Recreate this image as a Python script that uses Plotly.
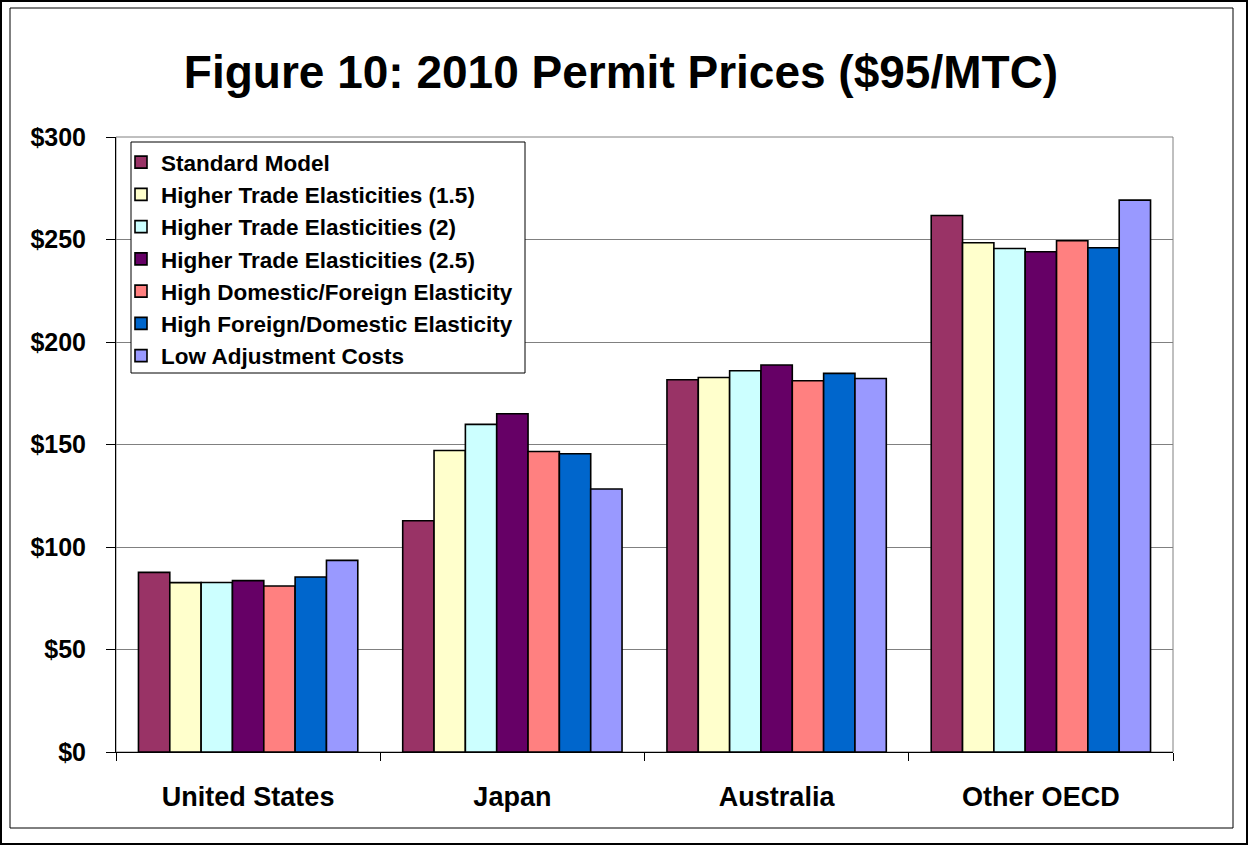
import plotly.graph_objects as go

categories = ["United States", "Japan", "Australia", "Other OECD"]
series_names = [
    "Standard Model",
    "Higher Trade Elasticities (1.5)",
    "Higher Trade Elasticities (2)",
    "Higher Trade Elasticities (2.5)",
    "High Domestic/Foreign Elasticity",
    "High Foreign/Domestic Elasticity",
    "Low Adjustment Costs",
]
standard_model = [87.6, 112.8, 181.6, 261.7]
hte_15 = [82.6, 147.1, 182.7, 248.4]
hte_2 = [82.7, 159.8, 186.0, 245.6]
hte_25 = [83.6, 165.0, 188.8, 244.0]
high_dom_for = [81.0, 146.6, 181.1, 249.4]
high_for_dom = [85.4, 145.5, 184.7, 246.0]
low_adj = [93.5, 128.3, 182.2, 269.2]
series_values = [standard_model, hte_15, hte_2, hte_25, high_dom_for, high_for_dom, low_adj]
colors = ["#993366", "#FFFFCC", "#CCFFFF", "#660066", "#FF8080", "#0066CC", "#9999FF"]
y_ticks = [0, 50, 100, 150, 200, 250, 300]
y_tick_labels = ["$0", "$50", "$100", "$150", "$200", "$250", "$300"]

W, H = 1249, 845
L, R, T, B = 116, 1173, 137, 752
FONT = "Arial, Liberation Sans, sans-serif"

def px_x(p):
    return (p - L) / (R - L)

def px_y(p):
    return (B - p) / (B - T)

fig = go.Figure()
for i, (name, vals, col) in enumerate(zip(series_names, series_values, colors)):
    fig.add_trace(go.Bar(
        x=categories, y=vals, name=name,
        marker=dict(color=col, line=dict(color="black", width=1.6)),
        legendgroup=f"g{i}",
    ))

fig.update_layout(
    width=W, height=H,
    margin=dict(l=L, r=W - R, t=T, b=H - B, autoexpand=False),
    paper_bgcolor="white", plot_bgcolor="white",
    barmode="group", bargap=0.17, bargroupgap=0,
    font=dict(family=FONT, color="black", size=17, weight="bold"),
    title=dict(text="Figure 10: 2010 Permit Prices ($95/MTC)", x=px_x(621), xref="paper",
               xanchor="center", y=1 - 72 / H, yanchor="middle",
               font=dict(family=FONT, size=46, weight="bold", color="black")),
    legend=dict(x=px_x(121), y=px_y(141), xanchor="left", yanchor="top",
                bgcolor="rgba(0,0,0,0)", borderwidth=0,
                font=dict(family=FONT, size=22.5, weight="bold", color="black"),
                tracegroupgap=5, itemwidth=30, traceorder="normal"),
    showlegend=True,
)
fig.update_yaxes(range=[0, 300], tickvals=y_ticks, ticktext=y_tick_labels,
                 showgrid=True, gridcolor="#808080", gridwidth=1,
                 showline=True, linecolor="black", linewidth=1,
                 ticks="outside", ticklen=9, tickcolor="black",
                 tickfont=dict(family=FONT, size=25, weight="bold"), zeroline=False,
                 ticklabelstandoff=15)
fig.update_xaxes(showline=True, linecolor="black", linewidth=1,
                 ticks="outside", ticklen=8, tickcolor="black", tickson="boundaries",
                 tickfont=dict(family=FONT, size=27, weight="bold"), ticklabelstandoff=21)

# plot area border (gray)
fig.add_shape(type="rect", xref="paper", yref="paper", x0=0, x1=1, y0=0, y1=1,
              line=dict(color="#808080", width=1), layer="below")
# legend box
fig.add_shape(type="rect", xref="paper", yref="paper",
              x0=px_x(131), x1=px_x(525), y0=px_y(373), y1=px_y(142),
              fillcolor="white", line=dict(color="black", width=1), layer="above")
# inner and outer frame
fig.add_shape(type="rect", xref="paper", yref="paper",
              x0=px_x(10), x1=px_x(1233), y0=px_y(828), y1=px_y(8),
              line=dict(color="black", width=1))
fig.add_shape(type="rect", xref="paper", yref="paper",
              x0=px_x(1), x1=px_x(1247), y0=px_y(844), y1=px_y(1),
              line=dict(color="black", width=2))

fig.write_html("out.html", config={"displayModeBar": False},
               post_script="document.body.style.margin='0';document.body.style.overflow='hidden';")
